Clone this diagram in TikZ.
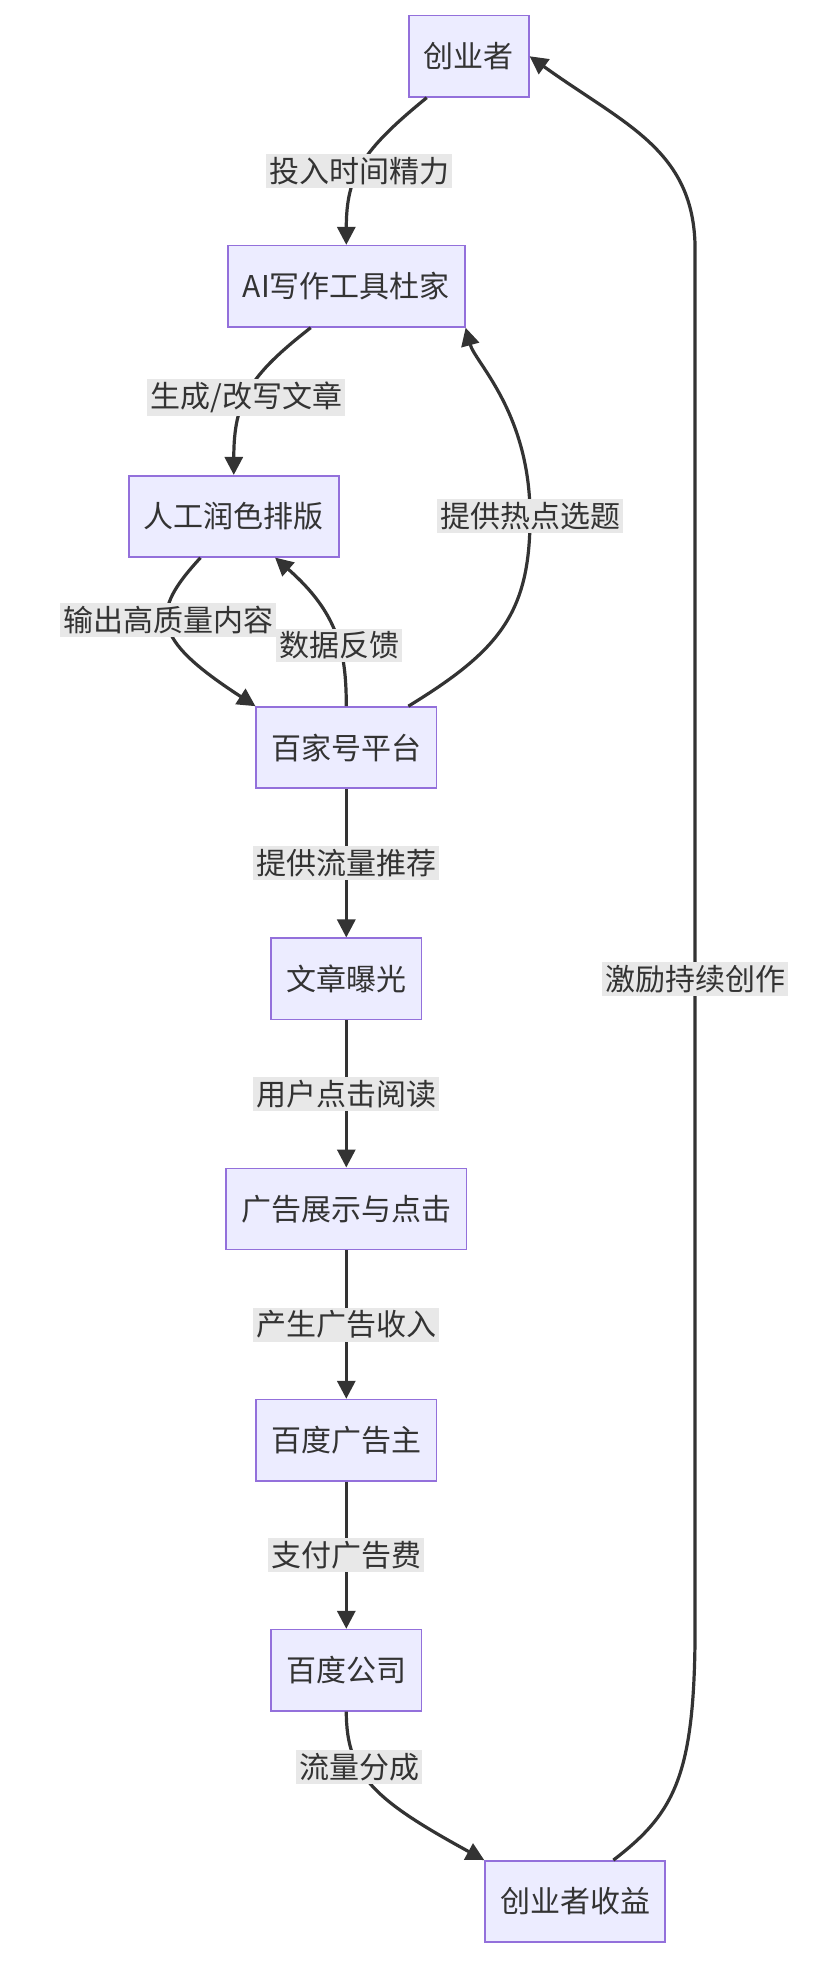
\documentclass[tikz,border=0pt]{standalone}
\usepackage{fontspec}
\setmainfont{Noto Sans CJK SC}
\usetikzlibrary{arrows.meta}
\definecolor{boxfill}{HTML}{ECECFF}
\definecolor{boxline}{HTML}{9370DB}
\definecolor{lbl}{HTML}{E8E8E8}
\definecolor{ink}{HTML}{333333}
\begin{document}
\begin{tikzpicture}[x=0.625pt, y=-0.625pt, font=\fontsize{15}{18}\selectfont,
    main/.style = {draw=boxline, fill=boxfill, line width=0.8pt, minimum height=40.6pt, inner xsep=7.5pt, text=ink},
    flow/.style = {draw=ink, line width=1.6pt, -{Triangle[length=9pt, width=9pt]}},
    tag/.style = {fill=lbl, inner sep=1.5pt, text=ink}]
        \useasboundingbox (0,0) rectangle (650,1579);
        \node[main] (1) at (375,45) {创业者};
        \node[main] (2) at (277,229) {AI写作工具杜家};
        \node[main] (3) at (187,413) {人工润色排版};
        \node[main] (4) at (277,598) {百家号平台};
        \node[main] (5) at (277,783) {文章曝光};
        \node[main] (6) at (277,967) {广告展示与点击};
        \node[main] (7) at (277,1152) {百度广告主};
        \node[main] (8) at (277,1336) {百度公司};
        \node[main] (9) at (460,1521) {创业者收益};

        \draw[flow] (1.south west) ++(15,0) .. controls (290,120) and (277,140) .. (2.north) node [tag, pos=0.55] {投入时间精力};
        \draw[flow] (2.south west) ++(67,0) .. controls (200,300) and (187,320) .. (3.north) node [tag, pos=0.55] {生成/改写文章};
        \draw[flow] (3.south west) ++(58,0) .. controls (120,490) and (120,510) .. (4.north west) node [tag, pos=0.45] {输出高质量内容};
        \draw[flow] (4.north) .. controls (277,520) and (270,490) .. (220,446) node [tag, pos=0.4] {数据反馈};
        \draw[flow] (4.north east) ++(-23,0) .. controls (400,520) and (424,490) .. (424,413) .. controls (424,330) and (380,290) .. (2.south east) node [tag, pos=0] {提供热点选题};
        \draw[flow] (4) -- (5) node [tag, midway] {提供流量推荐};
        \draw[flow] (5) -- (6) node [tag, midway] {用户点击阅读};
        \draw[flow] (6) -- (7) node [tag, midway] {产生广告收入};
        \draw[flow] (7) -- (8) node [tag, midway] {支付广告费};
        \draw[flow] (8.south) .. controls (277,1420) and (300,1440) .. (9.north west) node [tag, pos=0.35] {流量分成};
        \draw[flow] (9.north east) ++(-42,0) .. controls (540,1450) and (556,1420) .. (556,1300) -- (556,200) .. controls (556,120) and (500,100) .. (1.east);
        \node[tag] (L) at (556,783) {激励持续创作};
    \end{tikzpicture}
\end{document}
